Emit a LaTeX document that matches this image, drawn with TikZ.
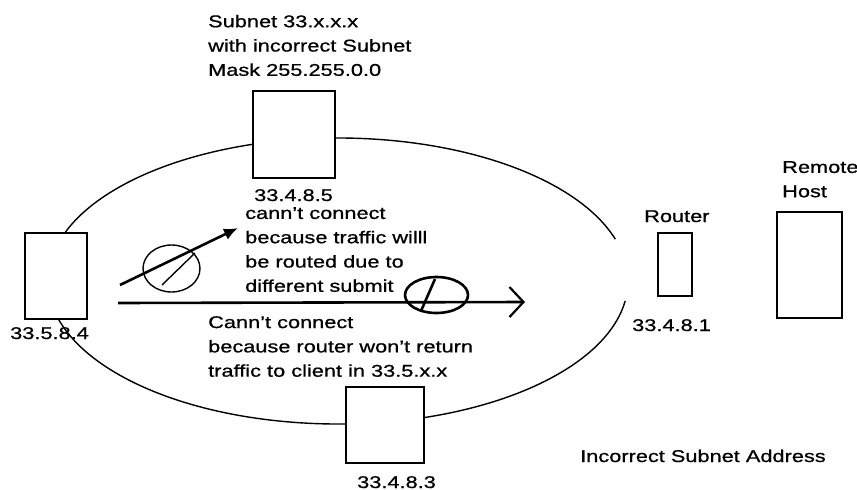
\documentclass[tikz,border=0pt]{standalone}
\usepackage{fontspec}
\setmainfont[FakeStretch=1.28,FakeBold=0.8]{Liberation Sans}
\usetikzlibrary{arrows.meta}
\begin{document}
\begin{tikzpicture}[x=1pt,y=-1pt,
  box/.style={draw, fill=white, line width=1.8pt, inner sep=0pt},
  lbl/.style={inner sep=0pt, font=\fontsize{17}{24.3}\selectfont},
  blk/.style={lbl, align=left, anchor=north west},
  ring/.style={line width=1.4pt},
  thick arrow/.style={line width=2.6pt}
]
\useasboundingbox (0,0) rectangle (857,490);
\fill[white] (0,0) rectangle (857,490);

% big subnet ellipse, open on the right towards the router
\coordinate (ec) at (338,281);
\draw[ring] ([shift={(8:290 and 143)}]ec) arc[start angle=8, end angle=343, x radius=290, y radius=143];

% hosts
\node[box, minimum width=82pt, minimum height=87pt] (topbox) at (294,134.5) {};
\node[box, minimum width=62pt, minimum height=86pt] (leftbox) at (56,276) {};
\node[box, minimum width=78pt, minimum height=76pt] (botbox) at (385,425) {};
\node[box, minimum width=34pt, minimum height=63pt] (router) at (675,264.5) {};
\node[box, minimum width=65pt, minimum height=106pt] (remote) at (809.5,265) {};

% labels
\node[blk] (toptext) at (208,14.7) {Subnet 33.x.x.x\\with incorrect Subnet\\Mask 255.255.0.0};
\node[lbl, anchor=base west] (ip5) at (254,201) {33.4.8.5};
\node[lbl, anchor=base west] (ip4) at (10,339) {33.5.8.4};
\node[lbl, anchor=base west] (ip1) at (632,331) {33.4.8.1};
\node[lbl, anchor=base west] (ip3) at (357,488) {33.4.8.3};
\node[lbl, anchor=base west] (routerlbl) at (644,222) {Router};
\node[blk] (remotelbl) at (782,161) {Remote\\Host};
\node[blk] (midtext) at (245,207) {cann't connect\\because traffic willl\\be routed due to\\different submit};
\node[blk] (bottext) at (208,316) {Cann't connect\\because router won't return\\traffic to client in 33.5.x.x};
\node[lbl, anchor=base west] (title) at (580,462) {Incorrect Subnet Address};

% diagonal (blocked) arrow
\coordinate (d0) at (120,285);
\coordinate (d1) at (238,228);
\draw[ring] (171.5,268.5) ellipse[x radius=28.5, y radius=23.5];
\draw[line width=1.4pt] (195,253) -- (162,285);
\draw[thick arrow, -{Latex[length=14pt,width=12pt]}] (d0) -- (d1);

% horizontal (blocked) arrow
\coordinate (h0) at (118,303);
\coordinate (h1) at (525,302);
\draw[thick arrow, -{Straight Barb[length=14pt,width=30pt,line width=2.2pt]}] (h0) -- (h1);
\draw[line width=2.6pt] (436.5,295) ellipse[x radius=31.5, y radius=18];
\draw[line width=2.6pt] (435,279) -- (421,311);
\end{tikzpicture}
\end{document}
